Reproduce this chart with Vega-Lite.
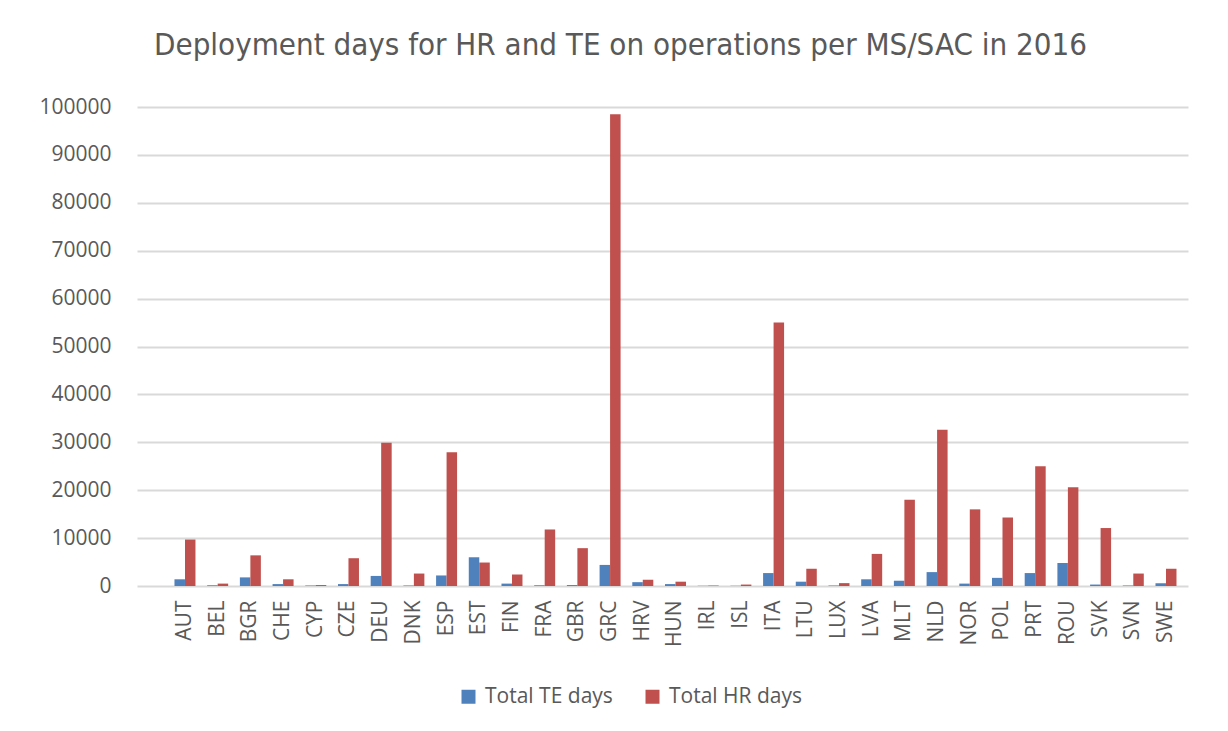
{
  "$schema": "https://vega.github.io/schema/vega-lite/v6.json",
  "width": 1051,
  "height": 479,
  "autosize": "none",
  "padding": {"left": 137, "top": 107, "right": 40, "bottom": 145},
  "background": "white",
  "title": {
    "text": "Deployment days for HR and TE on operations per MS/SAC in 2016",
    "font": "DejaVu Sans Condensed",
    "fontSize": 31,
    "fontWeight": "normal",
    "color": "#595959",
    "anchor": "middle",
    "dx": -42,
    "baseline": "alphabetic",
    "offset": 10
  },
  "config": {
    "view": {"stroke": null},
    "axis": {"labelFont": "Open Sans", "labelFontSize": 21, "labelColor": "#595959", "title": null},
    "legend": {"labelFont": "Open Sans", "labelFontSize": 21, "labelColor": "#595959"}
  },
  "data": {
    "values": [
      {"country": "AUT", "series": "Total TE days", "days": 1400}, {"country": "AUT", "series": "Total HR days", "days": 9700},
      {"country": "BEL", "series": "Total TE days", "days": 150}, {"country": "BEL", "series": "Total HR days", "days": 500},
      {"country": "BGR", "series": "Total TE days", "days": 1800}, {"country": "BGR", "series": "Total HR days", "days": 6400},
      {"country": "CHE", "series": "Total TE days", "days": 400}, {"country": "CHE", "series": "Total HR days", "days": 1400},
      {"country": "CYP", "series": "Total TE days", "days": 100}, {"country": "CYP", "series": "Total HR days", "days": 200},
      {"country": "CZE", "series": "Total TE days", "days": 400}, {"country": "CZE", "series": "Total HR days", "days": 5800},
      {"country": "DEU", "series": "Total TE days", "days": 2100}, {"country": "DEU", "series": "Total HR days", "days": 29900},
      {"country": "DNK", "series": "Total TE days", "days": 100}, {"country": "DNK", "series": "Total HR days", "days": 2600},
      {"country": "ESP", "series": "Total TE days", "days": 2200}, {"country": "ESP", "series": "Total HR days", "days": 27900},
      {"country": "EST", "series": "Total TE days", "days": 6000}, {"country": "EST", "series": "Total HR days", "days": 4900},
      {"country": "FIN", "series": "Total TE days", "days": 500}, {"country": "FIN", "series": "Total HR days", "days": 2400},
      {"country": "FRA", "series": "Total TE days", "days": 150}, {"country": "FRA", "series": "Total HR days", "days": 11800},
      {"country": "GBR", "series": "Total TE days", "days": 200}, {"country": "GBR", "series": "Total HR days", "days": 7900},
      {"country": "GRC", "series": "Total TE days", "days": 4400}, {"country": "GRC", "series": "Total HR days", "days": 98500},
      {"country": "HRV", "series": "Total TE days", "days": 800}, {"country": "HRV", "series": "Total HR days", "days": 1300},
      {"country": "HUN", "series": "Total TE days", "days": 400}, {"country": "HUN", "series": "Total HR days", "days": 900},
      {"country": "IRL", "series": "Total TE days", "days": 50}, {"country": "IRL", "series": "Total HR days", "days": 100},
      {"country": "ISL", "series": "Total TE days", "days": 50}, {"country": "ISL", "series": "Total HR days", "days": 300},
      {"country": "ITA", "series": "Total TE days", "days": 2700}, {"country": "ITA", "series": "Total HR days", "days": 55000},
      {"country": "LTU", "series": "Total TE days", "days": 900}, {"country": "LTU", "series": "Total HR days", "days": 3600},
      {"country": "LUX", "series": "Total TE days", "days": 100}, {"country": "LUX", "series": "Total HR days", "days": 600},
      {"country": "LVA", "series": "Total TE days", "days": 1400}, {"country": "LVA", "series": "Total HR days", "days": 6700},
      {"country": "MLT", "series": "Total TE days", "days": 1100}, {"country": "MLT", "series": "Total HR days", "days": 18000},
      {"country": "NLD", "series": "Total TE days", "days": 2900}, {"country": "NLD", "series": "Total HR days", "days": 32600},
      {"country": "NOR", "series": "Total TE days", "days": 500}, {"country": "NOR", "series": "Total HR days", "days": 16000},
      {"country": "POL", "series": "Total TE days", "days": 1700}, {"country": "POL", "series": "Total HR days", "days": 14300},
      {"country": "PRT", "series": "Total TE days", "days": 2700}, {"country": "PRT", "series": "Total HR days", "days": 25000},
      {"country": "ROU", "series": "Total TE days", "days": 4800}, {"country": "ROU", "series": "Total HR days", "days": 20600},
      {"country": "SVK", "series": "Total TE days", "days": 300}, {"country": "SVK", "series": "Total HR days", "days": 12100},
      {"country": "SVN", "series": "Total TE days", "days": 100}, {"country": "SVN", "series": "Total HR days", "days": 2600},
      {"country": "SWE", "series": "Total TE days", "days": 600}, {"country": "SWE", "series": "Total HR days", "days": 3600}
    ]
  },
  "mark": {"type": "bar"},
  "encoding": {
    "x": {
      "field": "country",
      "type": "nominal",
      "sort": null,
      "scale": {"paddingInner": 0.358, "paddingOuter": 0.749, "align": 0.765},
      "axis": {"labelAngle": -90, "labelPadding": 14, "ticks": false, "domain": false, "grid": false}
    },
    "xOffset": {
      "field": "series",
      "type": "nominal",
      "sort": ["Total TE days", "Total HR days"],
      "scale": {"paddingInner": 0, "paddingOuter": 0}
    },
    "y": {
      "field": "days",
      "type": "quantitative",
      "scale": {"domain": [0, 100000], "nice": false},
      "axis": {"values": [0, 10000, 20000, 30000, 40000, 50000, 60000, 70000, 80000, 90000, 100000], "format": "d", "ticks": false, "domain": false, "labelPadding": 26, "gridColor": "#d9d9d9", "gridWidth": 2}
    },
    "color": {
      "field": "series",
      "type": "nominal",
      "sort": ["Total TE days", "Total HR days"],
      "scale": {"domain": ["Total TE days", "Total HR days"], "range": ["#4f81bd", "#c0504d"]},
      "legend": {"title": null, "orient": "none", "direction": "horizontal", "legendX": 321, "legendY": 579, "symbolType": "square", "symbolSize": 196, "symbolStrokeWidth": 0, "labelOffset": 6, "columnPadding": 29}
    }
  }
}
